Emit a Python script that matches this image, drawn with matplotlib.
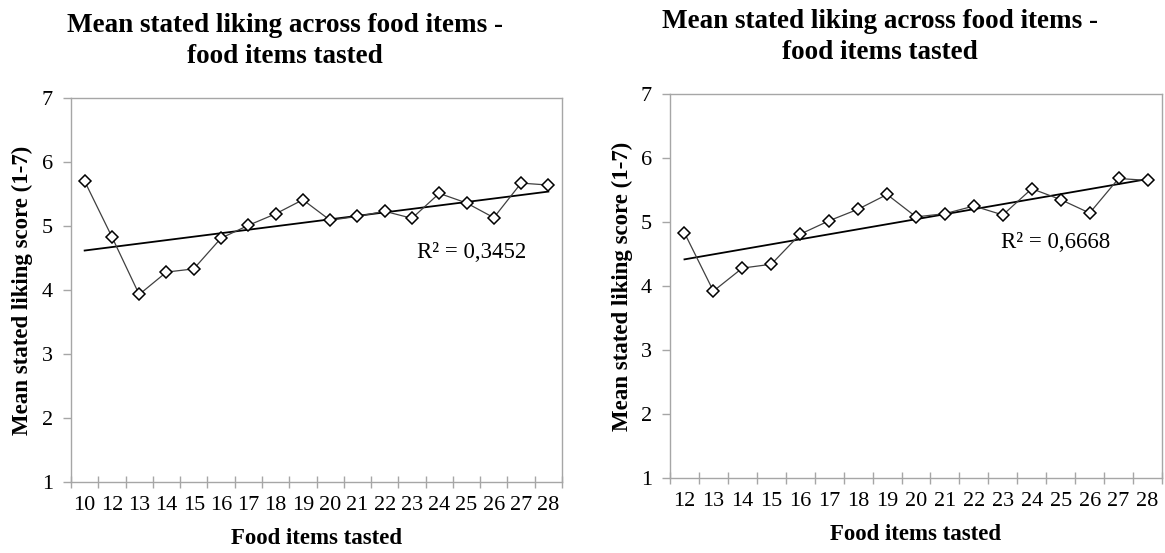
import numpy as np
import matplotlib
matplotlib.use("Agg")
import matplotlib.pyplot as plt

plt.rcParams['font.family'] = ['Liberation Serif', 'DejaVu Serif']

# Mean stated liking (1-7) by number of food items tasted
items_a = ["10", "12", "13", "14", "15", "16", "17", "18", "19", "20",
           "21", "22", "23", "24", "25", "26", "27", "28"]
liking_a = [5.70, 4.83, 3.93, 4.28, 4.33, 4.81, 5.01, 5.19, 5.41, 5.09,
            5.15, 5.23, 5.12, 5.51, 5.36, 5.13, 5.67, 5.64]
r2_a = "R² = 0,3452"

items_b = ["12", "13", "14", "15", "16", "17", "18", "19", "20",
           "21", "22", "23", "24", "25", "26", "27", "28"]
liking_b = [4.83, 3.92, 4.28, 4.34, 4.81, 5.02, 5.20, 5.43, 5.08,
            5.13, 5.25, 5.11, 5.52, 5.35, 5.14, 5.68, 5.65]
r2_b = "R² = 0,6668"

title_lines = ["Mean stated liking across food items -", "food items tasted"]
ylab = "Mean stated liking score (1-7)"
xlab = "Food items tasted"
yticks = [1, 2, 3, 4, 5, 6, 7]

W, H = 1165, 553
fig = plt.figure(figsize=(W / 100, H / 100), dpi=100)

grey = "#a6a6a6"
TICK_FS = 16
LABEL_FS = 16.5
TITLE_FS = 19.5


def px(x, y):
    """figure pixel (from top-left) -> figure fraction"""
    return x / W, 1 - y / H


def panel(box, cats, vals, r2, r2_px, title_cx, title_base, ylabel_x,
          xlabel_y):
    x0, y0, x1, y1 = box
    ax = fig.add_axes([x0 / W, 1 - y1 / H, (x1 - x0) / W, (y1 - y0) / H])
    n = len(cats)
    x = np.arange(1, n + 1)
    # linear trendline over category positions
    k, b = np.polyfit(x, vals, 1)
    ax.plot(x, vals, color="#404040", lw=0.9, marker="D", ms=6.2,
            mfc="white", mec="black", mew=1.1, zorder=3)
    ax.plot([x[0], x[-1]], [k * x[0] + b, k * x[-1] + b], color="black",
            lw=1.3, zorder=2)
    ax.set_xlim(0.5, n + 0.5)
    ax.set_ylim(1, 7)
    ax.set_yticks(yticks)
    ax.set_yticklabels([str(t) for t in yticks], fontsize=TICK_FS)
    ax.set_xticks(np.arange(0.5, n + 1, 1))
    ax.set_xticklabels([])
    ax.set_xticks(x, minor=True)
    ax.set_xticklabels(cats, minor=True, fontsize=TICK_FS)
    ax.tick_params(axis="x", which="major", direction="inout", length=9,
                   color=grey, width=1)
    ax.tick_params(axis="x", which="minor", length=0, pad=10)
    ax.tick_params(axis="y", direction="out", length=6, color=grey, width=1,
                   pad=7)
    for s in ax.spines.values():
        s.set_color(grey)
        s.set_linewidth(1.0)
    fig.text(*px(*r2_px), r2, fontsize=LABEL_FS, ha="left", va="center")
    # two-line title, each line placed on its own baseline
    for line, base in zip(title_lines, title_base):
        fig.text(*px(title_cx, base), line, ha="center", va="baseline",
                 fontsize=TITLE_FS, fontweight="bold")
    fig.text(*px(ylabel_x, (y0 + y1) / 2), ylab, rotation=90, ha="center",
             va="center", fontsize=LABEL_FS, fontweight="bold")
    fig.text(*px((x0 + x1) / 2, xlabel_y), xlab, ha="center", va="center",
             fontsize=LABEL_FS, fontweight="bold")
    return ax


panel((71, 98, 562, 482), items_a, liking_a, r2_a, (417, 252),
      285, (32, 63), 22, 538)
panel((670, 94, 1162, 478), items_b, liking_b, r2_b, (1001, 242),
      880, (28, 59), 622, 535)

fig.savefig("out.png", dpi=100)
